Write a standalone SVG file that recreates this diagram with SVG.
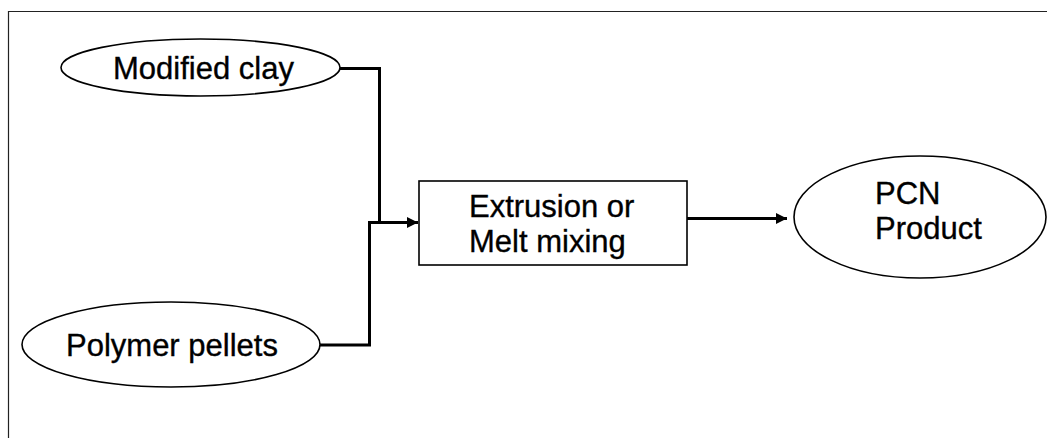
<svg xmlns="http://www.w3.org/2000/svg" width="1047" height="438" viewBox="0 0 1047 438">
<style>
.shape{fill:#fff;stroke:#000;stroke-width:1.6}
.lbl{font-family:"Liberation Sans",Arial,sans-serif;font-size:31px;fill:#000;stroke:#000;stroke-width:0.35}
.conn{fill:none;stroke:#000;stroke-width:3}
</style>
<defs>
<marker id="ah" markerWidth="11" markerHeight="11" refX="11" refY="5.5" orient="auto" markerUnits="userSpaceOnUse">
<path d="M0,0 L11,5.5 L0,11 Z" fill="#000"/>
</marker>
</defs>
<rect x="0" y="0" width="1047" height="438" fill="#fff"/>
<path d="M8.5,438 V11.5 H1047" fill="none" stroke="#222" stroke-width="1.2"/>
<g id="connectors">
<path class="conn" d="M340,68.5 H379.5 V222.5"/>
<path class="conn" d="M320,345 H369.5 V222.5 H418" marker-end="url(#ah)"/>
<path class="conn" d="M687,218.5 H787" marker-end="url(#ah)"/>
</g>
<g id="modified-clay">
<ellipse class="shape" cx="200.5" cy="67.5" rx="139.5" ry="28.5"/>
<text class="lbl" x="113" y="79">Modified clay</text>
</g>
<g id="polymer-pellets">
<ellipse class="shape" cx="171" cy="344.5" rx="149" ry="42.5"/>
<text class="lbl" x="66" y="356">Polymer pellets</text>
</g>
<g id="extrusion">
<rect class="shape" x="419" y="181" width="268" height="84"/>
<text class="lbl" x="469" y="217">Extrusion or</text>
<text class="lbl" x="469" y="252">Melt mixing</text>
</g>
<g id="pcn-product">
<ellipse class="shape" cx="920" cy="217" rx="126" ry="61"/>
<text class="lbl" x="875" y="204">PCN</text>
<text class="lbl" x="875" y="239">Product</text>
</g>
</svg>
